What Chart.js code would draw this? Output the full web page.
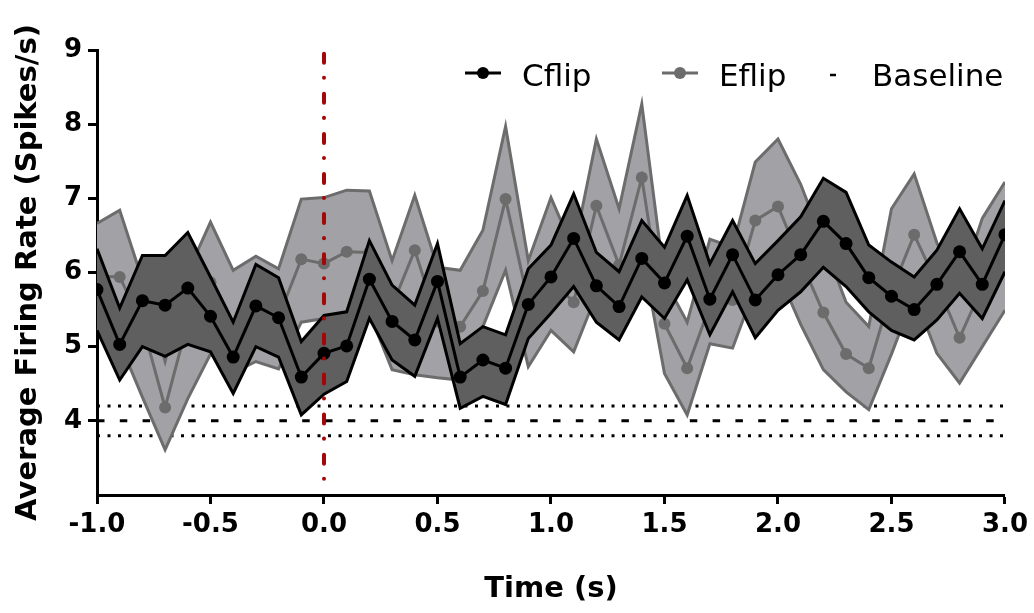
<!DOCTYPE html>
<html lang="en">
<head>
    <meta charset="UTF-8">
    <title>Average Firing Rate</title>
    <script src="https://cdn.jsdelivr.net/npm/chart.js@4.4.0/dist/chart.umd.min.js"></script>
    <style>
        html, body { margin: 0; padding: 0; background: #ffffff; }
        .chart-container { position: relative; width: 1034px; height: 613px; }
    </style>
</head>
<body>
    <div class="chart-container">
        <canvas id="rateChart" width="1034" height="613"></canvas>
    </div>
    <script>
        // time bins (s)
        const time = [-1.0, -0.9, -0.8, -0.7, -0.6, -0.5, -0.4, -0.3, -0.2, -0.1,
                      0.0, 0.1, 0.2, 0.3, 0.4, 0.5, 0.6, 0.7, 0.8, 0.9,
                      1.0, 1.1, 1.2, 1.3, 1.4, 1.5, 1.6, 1.7, 1.8, 1.9,
                      2.0, 2.1, 2.2, 2.3, 2.4, 2.5, 2.6, 2.7, 2.8, 2.9, 3.0];

        // Cflip mean and band edges (spikes/s)
        const cflipMean  = [5.77, 5.03, 5.62, 5.56, 5.79, 5.41, 4.86, 5.55, 5.39, 4.59,
                            4.91, 5.01, 5.91, 5.34, 5.09, 5.88, 4.59, 4.82, 4.71, 5.57,
                            5.94, 6.46, 5.82, 5.54, 6.19, 5.86, 6.49, 5.64, 6.24, 5.63,
                            5.97, 6.24, 6.69, 6.39, 5.93, 5.68, 5.50, 5.84, 6.28, 5.84, 6.51];
        const cflipUpper = [6.32, 5.52, 6.23, 6.23, 6.54, 5.94, 5.33, 6.11, 5.93, 5.07,
                            5.42, 5.47, 6.43, 5.83, 5.56, 6.39, 5.04, 5.27, 5.16, 6.05,
                            6.37, 7.06, 6.27, 6.01, 6.70, 6.34, 7.04, 6.12, 6.70, 6.12,
                            6.43, 6.75, 7.27, 7.08, 6.37, 6.14, 5.94, 6.30, 6.86, 6.32, 6.97];
        const cflipLower = [5.22, 4.55, 5.00, 4.87, 5.03, 4.93, 4.37, 5.00, 4.86, 4.08,
                            4.36, 4.53, 5.38, 4.82, 4.60, 5.38, 4.17, 4.33, 4.22, 5.11,
                            5.45, 5.81, 5.33, 5.09, 5.67, 5.38, 5.90, 5.16, 5.74, 5.12,
                            5.49, 5.74, 6.07, 5.81, 5.47, 5.22, 5.09, 5.36, 5.72, 5.38, 6.01];

        // Eflip mean and band edges (spikes/s)
        const eflipMean  = [5.95, 5.94, 5.30, 4.18, 5.33, 5.87, 5.20, 5.50, 5.40, 6.18,
                            6.12, 6.28, 6.27, 5.55, 6.30, 5.34, 5.27, 5.75, 6.99, 5.60,
                            5.90, 5.60, 6.90, 6.10, 7.28, 5.31, 4.71, 5.55, 5.63, 6.70,
                            6.89, 6.16, 5.46, 4.90, 4.71, 5.75, 6.51, 5.85, 5.12, 5.80, 6.37];
        const eflipUpper = [6.66, 6.84, 5.90, 4.80, 6.00, 6.68, 6.03, 6.22, 6.05, 6.99,
                            7.01, 7.11, 7.10, 6.16, 7.04, 6.07, 6.03, 6.57, 7.97, 6.16,
                            7.01, 6.30, 7.80, 6.86, 8.27, 5.90, 5.33, 6.45, 6.34, 7.49,
                            7.80, 7.19, 6.40, 5.60, 5.27, 6.86, 7.33, 6.40, 5.80, 6.73, 7.22];
        const eflipLower = [5.25, 5.05, 4.32, 3.61, 4.30, 4.90, 4.65, 4.80, 4.70, 5.33,
                            5.38, 5.45, 5.45, 4.69, 4.62, 4.58, 4.55, 5.27, 6.03, 4.73,
                            5.22, 4.93, 5.70, 5.30, 6.30, 4.64, 4.08, 5.04, 4.98, 5.80,
                            6.00, 5.30, 4.69, 4.39, 4.15, 4.90, 5.70, 4.91, 4.51, 5.00, 5.49];

        // baseline level and its band
        const baselineMean = 4.0;
        const baselineBand = [4.2, 3.8];

        // stimulus onset marker
        const onsetTime = 0.0;
        const onsetRange = [8.95, 3.1];

        const xTicks = [-1.0, -0.5, 0.0, 0.5, 1.0, 1.5, 2.0, 2.5, 3.0];
        const yTicks = [4, 5, 6, 7, 8, 9];
        const seriesNames = ['Cflip', 'Eflip', 'Baseline'];

        const toPoints = (ys) => ys.map((y, i) => ({ x: time[i], y: y }));
        const flatLine = (y) => [{ x: time[0], y: y }, { x: time[time.length - 1], y: y }];

        const black = '#000000';
        const darkFill = '#5f5f5f';
        const lightFill = '#a2a2a6';
        const greyLine = '#6c6c6c';
        const red = '#a30808';

        // legend drawn over the plot, top right
        const cornerLegend = {
            id: 'cornerLegend',
            afterDraw(chart) {
                const ctx = chart.ctx;
                const area = chart.chartArea;
                const y = area.top + 23;
                ctx.save();
                ctx.font = '31px "DejaVu Sans"';
                ctx.fillStyle = black;
                ctx.textBaseline = 'alphabetic';
                ctx.textAlign = 'left';

                const symbols = [
                    { cx: area.left + 386, color: black, text: seriesNames[0] },
                    { cx: area.left + 583, color: greyLine, text: seriesNames[1] }
                ];
                symbols.forEach(s => {
                    ctx.strokeStyle = s.color;
                    ctx.lineWidth = 3;
                    ctx.beginPath();
                    ctx.moveTo(s.cx - 18, y);
                    ctx.lineTo(s.cx + 18, y);
                    ctx.stroke();
                    ctx.fillStyle = s.color;
                    ctx.beginPath();
                    ctx.arc(s.cx, y, 6, 0, Math.PI * 2);
                    ctx.fill();
                    ctx.fillStyle = black;
                    ctx.fillText(s.text, s.cx + 39, y + 13);
                });

                // baseline: short dash
                ctx.strokeStyle = black;
                ctx.lineWidth = 2.5;
                ctx.beginPath();
                ctx.moveTo(area.left + 733, y + 2);
                ctx.lineTo(area.left + 739, y + 2);
                ctx.stroke();
                ctx.fillText(seriesNames[2], area.left + 775, y + 13);
                ctx.restore();
            }
        };

        const ctx = document.getElementById('rateChart').getContext('2d');
        const rateChart = new Chart(ctx, {
            type: 'line',
            data: {
                datasets: [
                    {
                        label: 'Onset',
                        data: [{ x: onsetTime, y: onsetRange[0] }, { x: onsetTime, y: onsetRange[1] }],
                        borderColor: red,
                        borderWidth: 4,
                        borderCapStyle: 'round',
                        borderDash: [9, 15, 0.1, 16],
                        pointRadius: 0,
                        fill: false
                    },
                    {
                        label: seriesNames[0],
                        data: toPoints(cflipMean),
                        borderColor: black,
                        borderWidth: 3,
                        pointRadius: 6.5,
                        pointBackgroundColor: black,
                        pointBorderWidth: 0,
                        fill: false
                    },
                    {
                        label: 'Cflip lower',
                        data: toPoints(cflipLower),
                        borderColor: black,
                        borderWidth: 3,
                        pointRadius: 0,
                        fill: false
                    },
                    {
                        label: 'Cflip upper',
                        data: toPoints(cflipUpper),
                        borderColor: black,
                        borderWidth: 3,
                        pointRadius: 0,
                        backgroundColor: darkFill,
                        fill: '-1'
                    },
                    {
                        label: seriesNames[1],
                        data: toPoints(eflipMean),
                        borderColor: greyLine,
                        borderWidth: 3,
                        pointRadius: 6,
                        pointBackgroundColor: greyLine,
                        pointBorderWidth: 0,
                        fill: false
                    },
                    {
                        label: 'Eflip lower',
                        data: toPoints(eflipLower),
                        borderColor: greyLine,
                        borderWidth: 3,
                        pointRadius: 0,
                        fill: false
                    },
                    {
                        label: 'Eflip upper',
                        data: toPoints(eflipUpper),
                        borderColor: greyLine,
                        borderWidth: 3,
                        pointRadius: 0,
                        backgroundColor: lightFill,
                        fill: '-1'
                    },
                    {
                        label: seriesNames[2],
                        data: flatLine(baselineMean),
                        borderColor: black,
                        borderWidth: 3,
                        borderDash: [7.5, 15.3],
                        pointRadius: 0,
                        fill: false
                    },
                    {
                        label: 'Baseline upper',
                        data: flatLine(baselineBand[0]),
                        borderColor: black,
                        borderWidth: 3,
                        borderDash: [3, 7.5],
                        pointRadius: 0,
                        fill: false
                    },
                    {
                        label: 'Baseline lower',
                        data: flatLine(baselineBand[1]),
                        borderColor: black,
                        borderWidth: 3,
                        borderDash: [3, 7.5],
                        pointRadius: 0,
                        fill: false
                    }
                ]
            },
            options: {
                responsive: false,
                animation: false,
                events: [],
                layout: { padding: { top: 50, right: 24, left: 0, bottom: 0 } },
                elements: { line: { tension: 0, borderJoinStyle: 'miter' } },
                plugins: {
                    legend: { display: false },
                    tooltip: { enabled: false }
                },
                scales: {
                    x: {
                        type: 'linear',
                        min: time[0],
                        max: time[time.length - 1],
                        afterFit(scale) { scale.height = 118; },
                        afterBuildTicks(scale) { scale.ticks = xTicks.map(v => ({ value: v })); },
                        border: { display: true, width: 3, color: black },
                        grid: { drawOnChartArea: false, drawTicks: true, tickLength: 9, tickWidth: 3, tickColor: black },
                        ticks: {
                            color: black,
                            padding: 6,
                            maxRotation: 0,
                            autoSkip: false,
                            font: { family: '"DejaVu Sans"', size: 26, weight: 'bold' },
                            callback: (v) => Number(v).toFixed(1)
                        },
                        title: {
                            display: true,
                            text: 'Time (s)',
                            color: black,
                            padding: { top: 0, bottom: 6 },
                            font: { family: '"DejaVu Sans"', size: 29, weight: 'bold' }
                        }
                    },
                    y: {
                        type: 'linear',
                        min: 3,
                        max: 9,
                        afterFit(scale) { scale.width = 97; },
                        afterBuildTicks(scale) { scale.ticks = yTicks.map(v => ({ value: v })); },
                        border: { display: true, width: 3, color: black },
                        grid: { drawOnChartArea: false, drawTicks: true, tickLength: 9, tickWidth: 3, tickColor: black },
                        ticks: {
                            color: black,
                            padding: 6,
                            autoSkip: false,
                            font: { family: '"DejaVu Sans"', size: 26, weight: 'bold' },
                            callback: (v) => String(v)
                        },
                        title: {
                            display: true,
                            text: 'Average Firing Rate (Spikes/s)',
                            color: black,
                            padding: { top: 11, bottom: 0 },
                            font: { family: '"DejaVu Sans"', size: 29, weight: 'bold' }
                        }
                    }
                }
            },
            plugins: [cornerLegend]
        });
    </script>
</body>
</html>
